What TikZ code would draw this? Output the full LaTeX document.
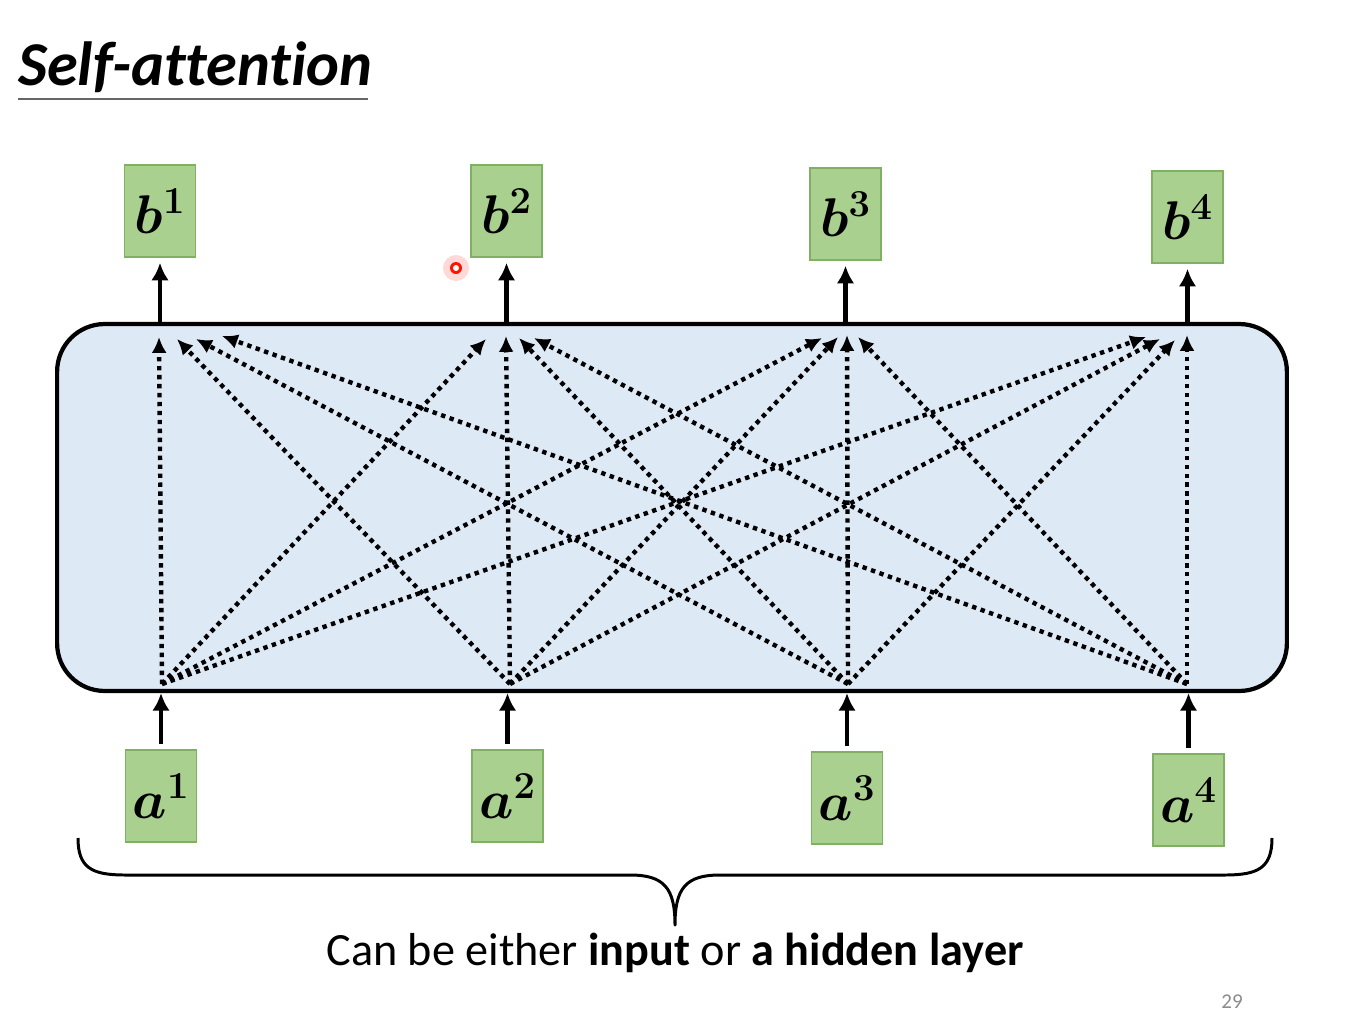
\RequirePackage{fix-cm}
\documentclass[tikz,border=0pt]{standalone}
\usepackage{fontspec}
\usepackage{bm}
\usetikzlibrary{arrows.meta}
\newfontfamily\carl[Ligatures=NoCommon]{Carlito}
\definecolor{boxblue}{RGB}{222,233,246}
\definecolor{gfill}{RGB}{170,208,143}
\definecolor{gdraw}{RGB}{128,176,98}
\tikzset{
  gbox/.style={draw=gdraw, line width=0.6pt, fill=gfill, minimum width=1.42cm, minimum height=1.84cm, inner sep=0pt, font=\fontsize{31}{34}\selectfont},
  solidarrow/.style={line width=2.7pt, -{Latex[length=10pt,width=10pt]}},
  dotarrow/.style={line width=2.5pt, dash pattern=on 2.5pt off 2.6pt, -{Latex[length=9pt,width=8.5pt]}},
}
\begin{document}
\begin{tikzpicture}[x=0.02cm,y=-0.02cm]
\useasboundingbox (0,0) rectangle (1346,1028);
\fill[white] (0,0) rectangle (1346,1028);

% title
\node[anchor=base west, inner sep=0pt] (title) at (18,85) {\carl\bfseries\itshape\fontsize{35.5}{40}\selectfont Self-attention};
\draw[black!60, line width=1.3pt] (18,99) -- (368,99);

% self-attention block
\node[draw, line width=2.4pt, rounded corners=0.95cm, fill=boxblue, minimum width=24.6cm, minimum height=7.34cm, inner sep=0pt] (attn) at (672,507.5) {};

% outputs
\node[gbox] (b1) at (160,211) {$\bm{b}^{\bm{1}}$};
\node[gbox] (b2) at (506.5,211) {$\bm{b}^{\bm{2}}$};
\node[gbox] (b3) at (845.5,214) {$\bm{b}^{\bm{3}}$};
\node[gbox] (b4) at (1187.5,217) {$\bm{b}^{\bm{4}}$};

% inputs
\node[gbox] (a1) at (161,796) {$\bm{a}^{\bm{1}}$};
\node[gbox] (a2) at (507.5,796) {$\bm{a}^{\bm{2}}$};
\node[gbox] (a3) at (847,798) {$\bm{a}^{\bm{3}}$};
\node[gbox] (a4) at (1188.5,800) {$\bm{a}^{\bm{4}}$};

% solid arrows
\draw[solidarrow, shorten >=3pt] (b1.south |- attn.north) -- (b1.south);
\draw[solidarrow, shorten >=3pt] (b2.south |- attn.north) -- (b2.south);
\draw[solidarrow, shorten >=3pt] (b3.south |- attn.north) -- (b3.south);
\draw[solidarrow, shorten >=3pt] (b4.south |- attn.north) -- (b4.south);
\draw[solidarrow, shorten <=3pt] (a1.north) -- (a1.north |- attn.south);
\draw[solidarrow, shorten <=3pt] (a2.north) -- (a2.north |- attn.south);
\draw[solidarrow, shorten <=3pt] (a3.north) -- (a3.north |- attn.south);
\draw[solidarrow, shorten <=3pt] (a4.north) -- (a4.north |- attn.south);

% sources and targets of attention
\coordinate (s1) at (162,684);
\coordinate (s2) at (510,684);
\coordinate (s3) at (848,684);
\coordinate (s4) at (1187,684);
\coordinate (t11) at (159,337);  \coordinate (t12) at (177,339);  \coordinate (t13) at (196,339);  \coordinate (t14) at (222,336);
\coordinate (t21) at (486,339);  \coordinate (t22) at (506,336);  \coordinate (t23) at (519,338);  \coordinate (t24) at (534,338);
\coordinate (t31) at (822,338);  \coordinate (t32) at (838,337);  \coordinate (t33) at (847,335);  \coordinate (t34) at (858,337);
\coordinate (t41) at (1146,337); \coordinate (t42) at (1160,339); \coordinate (t43) at (1175,340); \coordinate (t44) at (1187,335);

\foreach \i in {1,2,3,4}{
  \foreach \j in {1,2,3,4}{
    \draw[dotarrow] (s\j) -- (t\i\j);
  }
}

% brace
\draw[line width=1.7pt, line join=round] (78,838) .. controls (78,868) and (92,875) .. (125,875) -- (630,875) .. controls (664,875) and (675,888) .. (675,925) .. controls (675,888) and (686,875) .. (720,875) -- (1225,875) .. controls (1258,875) and (1272,868) .. (1272,838);

% caption
\node[anchor=base, inner sep=0pt] (cap) at (675,965) {\carl\fontsize{26.3}{30}\selectfont Can be either \textbf{input} or \textbf{a hidden layer}};

% page number
\node[anchor=base, inner sep=0pt, text=black!45] (pg) at (1232,1008) {\carl\fontsize{12}{14}\selectfont 29};

% laser pointer dot
\fill[red!25, opacity=0.6] (456,268) circle (0.26cm);
\node[circle, fill=red!85!orange, inner sep=0pt, minimum size=0.24cm] (dot) at (456,268) {};
\fill[white] (dot.center) circle (0.06cm);
\end{tikzpicture}
\end{document}
